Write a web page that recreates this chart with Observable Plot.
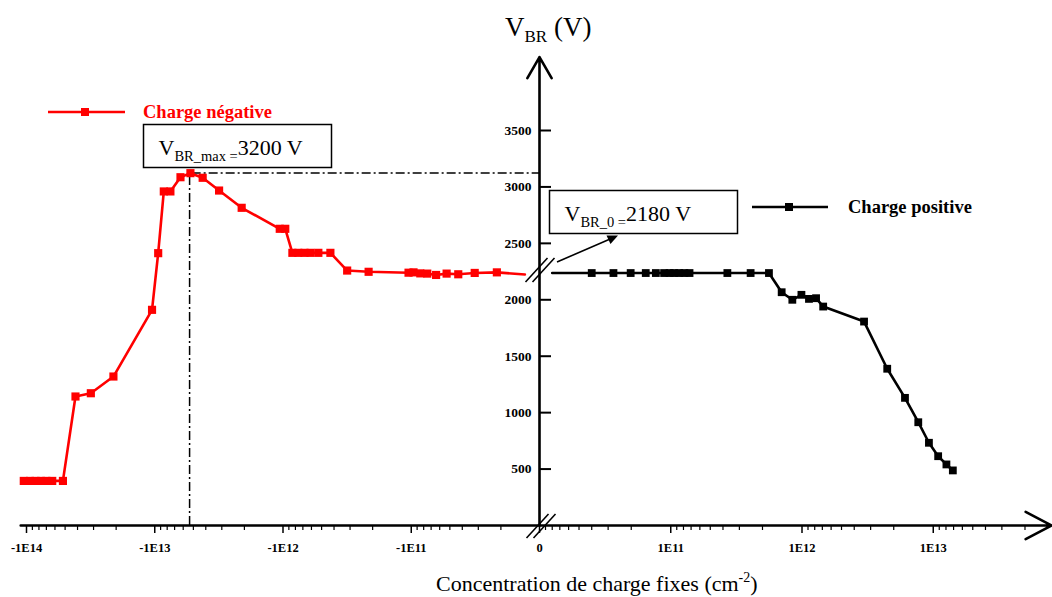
<!DOCTYPE html>
<html><head><meta charset="utf-8">
<script src="https://cdn.jsdelivr.net/npm/d3@7"></script>
<script src="https://cdn.jsdelivr.net/npm/@observablehq/plot@0.6"></script>
<style>body{margin:0;background:#fff} svg{display:block}</style>
</head><body><div id="chart"></div>
<script>
// ---------- data (fixed charge concentration in cm^-2, breakdown voltage in V) ----------
const negCharge = [-1.05e14,-9.4e13,-8.5e13,-7.7e13,-7.0e13,-6.3e13,-5.2e13,-4.15e13,-3.15e13,-2.1e13,
  -1.05e13,-9.4e12,-8.5e12,-7.55e12,-6.3e12,-5.27e12,-4.23e12,-3.15e12,-2.1e12,-1.06e12,-9.6e11,
  -8.45e11,-7.6e11,-6.8e11,-6.1e11,-5.3e11,-4.27e11,-3.16e11,-2.15e11,-1.05e11,-9.6e10,-8.5e10,
  -7.5e10,-6.4e10,-5.3e10,-4.3e10,-3.2e10,-2.15e10];
const negVbr = [395,395,395,395,395,395,395,1143,1172,1320,
  1911,2413,2960,2960,3086,3122,3081,2968,2815,2629,2629,
  2416,2416,2416,2416,2416,2416,2259,2248,2240,2243,2234,
  2232,2220,2232,2226,2238,2243];
const negEdge = {c: -1.3e10, v: 2224};   // line runs into the axis break

const posCharge = [2.5e10,3.66e10,4.95e10,6.45e10,7.7e10,8.9e10,9.8e10,1.06e11,1.16e11,1.27e11,1.39e11,
  2.7e11,4.06e11,5.6e11,7.0e11,8.44e11,9.9e11,1.13e12,1.28e12,1.45e12,2.97e12,4.46e12,6.09e12,
  7.69e12,9.27e12,1.09e13,1.26e13,1.41e13];
const posVbr = [2237,2237,2237,2237,2237,2237,2237,2237,2237,2237,2237,
  2237,2237,2237,2067,2000,2044,2008,2014,1940,1807,1389,1131,
  915,733,614,541,488];
const posEdge = {c: 1.25e10, v: 2237};

const peakCharge = -5.35e12, peakVbr = 3124;
const xTickValues = [-1e14,-1e13,-1e12,-1e11,0,1e11,1e12,1e13];
const xTickLabels = ["-1E14","-1E13","-1E12","-1E11","0","1E11","1E12","1E13"];
const yTickValues = [500,1000,1500,2000,2500,3000,3500];
const yTickLabels = ["500","1000","1500","2000","2500","3000","3500"];
const yBreakV = 2259;
const xAxisStart = -1.11e14, xAxisEnd = 8e13, yAxisEnd = 4150;

// ---------- helpers ----------
// signed log coordinate: decades away from |1E10|, negative side mirrored
const toT = c => c === 0 ? 0 : Math.sign(c) * (Math.log10(Math.abs(c)) - 10);
const neg = negCharge.map((c, i) => ({c, v: negVbr[i]}));
const pos = posCharge.map((c, i) => ({c, v: posVbr[i]}));
const minorTicks = [];
for (let n = 10; n <= 13; n++) for (let k = 2; k <= 9; k++) {
  minorTicks.push(toT(-k * 10 ** n));          // negative side
  minorTicks.push(toT(10 ** (n + 1) / k));     // positive side (mirrored spacing)
}
const RED = "#ff0000";
const serif = "'Liberation Serif','Times New Roman',serif";

const chart = Plot.plot({
  width: 1052, height: 597,
  marginTop: 57, marginBottom: 72, marginLeft: 0, marginRight: 513,
  x: {type: "linear", domain: [-4, 0, 4], range: [26, 539, 1064]},
  y: {type: "linear", domain: [0, 3500], range: [525, 130]},
  style: {fontFamily: serif, background: "white", color: "black", overflow: "visible"},
  marks: [
    Plot.ruleX([peakCharge], {x: d => toT(d), y1: 0, y2: peakVbr, stroke: "black", strokeWidth: 1.5, strokeDasharray: "9,3,2,3"}),
    Plot.ruleY([peakVbr], {y: d => d, x1: () => toT(peakCharge) + 0.02, x2: 0, stroke: "black", strokeWidth: 1.5, strokeDasharray: "9,3,2,3"}),
    Plot.axisX(xTickValues.map(toT), {tickSize: 8, tickFormat: () => "", strokeWidth: 1.5, label: null}),
    Plot.axisX(minorTicks, {tickSize: 5, tickFormat: () => "", strokeWidth: 1.2, label: null}),
    Plot.text(xTickValues, {x: d => toT(d), y: () => 0, text: (d, i) => xTickLabels[i], dy: 22, lineAnchor: "middle", textAnchor: "middle", fontWeight: "bold", fontSize: 12.5, fill: "black"}),
    Plot.axisY(yTickValues, {anchor: "right", tickSize: 11, tickFormat: () => "", strokeWidth: 2, label: null}),
    Plot.text(yTickValues, {x: () => 0, y: d => d, text: (d, i) => yTickLabels[i], dx: -8, textAnchor: "end", fontWeight: "bold", fontSize: 13.5, fill: "black"}),
    Plot.arrow([0], {x1: () => toT(xAxisStart), y1: () => 0, x2: () => toT(xAxisEnd), y2: () => 0, stroke: "black", strokeWidth: 2.6, headLength: 17, headAngle: 55}),
    Plot.arrow([0], {x1: () => 0, y1: () => 0, x2: () => 0, y2: () => yAxisEnd, stroke: "black", strokeWidth: 2.6, headLength: 14, headAngle: 60}),
    Plot.line([...neg, negEdge], {x: d => toT(d.c), y: "v", stroke: RED, strokeWidth: 2.6}),
    Plot.dot(neg, {x: d => toT(d.c), y: "v", symbol: "square", r: 4.6, fill: RED, stroke: "none"}),
    Plot.line([posEdge, ...pos], {x: d => toT(d.c), y: "v", stroke: "black", strokeWidth: 2.6}),
    Plot.dot(pos, {x: d => toT(d.c), y: "v", symbol: "square", r: 4.4, fill: "black", stroke: "none"})
  ]
});
document.getElementById("chart").appendChild(chart);

// ---------- annotations ----------
const svg = d3.select(chart);
const sx = chart.scale("x"), sy = chart.scale("y");
const x0 = sx.apply(0), y0 = sy.apply(0), yb = sy.apply(yBreakV);
const g = svg.append("g").attr("font-family", serif).attr("text-anchor", "start");

// axis breaks
for (const [cx, cy] of [[x0 + 1, yb], [x0 + 2, y0 + 1]]) {
  for (const off of [-3.5, 3.5]) {
    g.append("line").attr("x1", cx + off - 11).attr("y1", cy + 12).attr("x2", cx + off + 11).attr("y2", cy - 12)
      .attr("stroke", "black").attr("stroke-width", 1.6);
  }
}

// axis titles
const yt = g.append("text").attr("x", 505).attr("y", 36).attr("font-size", 27).attr("fill", "black");
yt.append("tspan").text("V");
yt.append("tspan").attr("font-size", 17).attr("dy", 6).text("BR");
yt.append("tspan").attr("dy", -6).text(" (V)");

const xt = g.append("text").attr("x", 436).attr("y", 591).attr("font-size", 22).attr("fill", "black");
xt.append("tspan").text("Concentration de charge fixes (cm");
xt.append("tspan").attr("font-size", 14).attr("dy", -9).text("-2");
xt.append("tspan").attr("dy", 9).text(")");

// boxes
function box(x, y, w, h, sub, val) {
  g.append("rect").attr("x", x).attr("y", y).attr("width", w).attr("height", h)
    .attr("fill", "white").attr("stroke", "black").attr("stroke-width", 1.5);
  const t = g.append("text").attr("x", x + 15).attr("y", y + 30.5).attr("font-size", 22).attr("fill", "black");
  t.append("tspan").text("V");
  t.append("tspan").attr("font-size", 14.5).attr("dy", 6).text(sub);
  t.append("tspan").attr("dy", -6).text(val);
}
box(143.5, 124.5, 188, 43, "BR_max =", "3200 V");
box(549.5, 190.5, 188, 43, "BR_0 =", "2180 V");

// arrow from break to box 2
g.append("line").attr("x1", 557).attr("y1", 262).attr("x2", 609).attr("y2", 239.5)
  .attr("stroke", "black").attr("stroke-width", 1.6);
g.append("path").attr("d", "M618,235.5 L606.5,235.5 L610.5,244 Z").attr("fill", "black");

// legends
g.append("line").attr("x1", 48).attr("y1", 112).attr("x2", 125).attr("y2", 112).attr("stroke", RED).attr("stroke-width", 2.6);
g.append("rect").attr("x", 81).attr("y", 108).attr("width", 8).attr("height", 8).attr("fill", RED);
g.append("text").attr("x", 143).attr("y", 117.5).attr("font-size", 18.5).attr("font-weight", "bold").attr("fill", RED).text("Charge négative");

g.append("line").attr("x1", 752).attr("y1", 207).attr("x2", 828).attr("y2", 207).attr("stroke", "black").attr("stroke-width", 2.6);
g.append("rect").attr("x", 785).attr("y", 203).attr("width", 8).attr("height", 8).attr("fill", "black");
g.append("text").attr("x", 848).attr("y", 213).attr("font-size", 18.5).attr("font-weight", "bold").attr("fill", "black").text("Charge positive");
</script>
</body></html>
